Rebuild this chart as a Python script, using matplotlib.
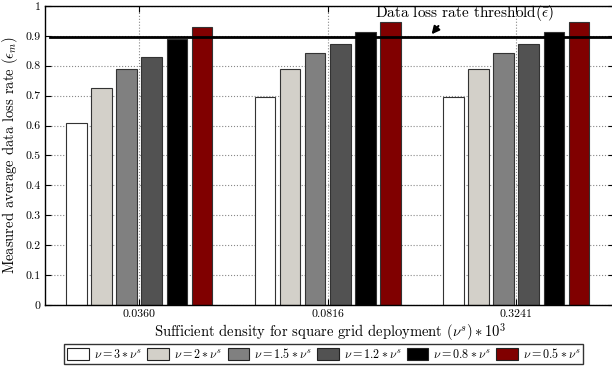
import numpy as np
import matplotlib
matplotlib.use("Agg")
import matplotlib.pyplot as plt
from matplotlib.patches import Patch

plt.rcParams['font.family'] = ['cmr10', 'DejaVu Serif']
plt.rcParams['mathtext.fontset'] = 'cm'
plt.rcParams['axes.formatter.use_mathtext'] = True

# data
densities = ['0.0360', '0.0816', '0.3241']
series_labels = [r'$\nu=3*\nu^s$', r'$\nu=2*\nu^s$', r'$\nu=1.5*\nu^s$',
                 r'$\nu=1.2*\nu^s$', r'$\nu=0.8*\nu^s$', r'$\nu=0.5*\nu^s$']
nu_3 = [0.608, 0.695, 0.695]
nu_2 = [0.727, 0.790, 0.790]
nu_15 = [0.790, 0.842, 0.842]
nu_12 = [0.830, 0.873, 0.873]
nu_08 = [0.889, 0.913, 0.913]
nu_05 = [0.929, 0.946, 0.946]
threshold = 0.895

series = [nu_3, nu_2, nu_15, nu_12, nu_08, nu_05]
colors = ['#ffffff', '#d3d0c9', '#808080', '#525252', '#000000', '#800000']

fig = plt.figure(figsize=(6.12, 3.70), dpi=100)
ax = fig.add_axes([0.0735, 0.176, 0.93, 0.808])

x = np.arange(1, len(densities) + 1)
step = 0.8 / len(series)
width = step * 0.82
for i, (vals, col) in enumerate(zip(series, colors)):
    offs = (i - (len(series) - 1) / 2) * step
    ax.bar(x + offs, vals, width=width, color=col, edgecolor='#333333',
           linewidth=0.8, zorder=2)

# threshold line and its label
ax.plot([0.525, 3.6], [threshold, threshold], color='black', lw=2, zorder=3)
ax.text(2.726, 0.977, r'Data loss rate threshold($\bar{\epsilon}$)',
        ha='center', va='center', fontsize=11)
ax.annotate('', xy=(2.542, threshold + 0.003), xytext=(2.597, 0.940),
            arrowprops=dict(arrowstyle='-|>', color='black', lw=1.5,
                            mutation_scale=11))

ax.set_xlim(0.5, 3.52)
ax.set_ylim(0, 1)
ax.set_xticks(x)
ax.set_xticklabels(densities)
ax.set_yticks(np.arange(0, 1.01, 0.1))
ax.set_yticklabels(['0'] + ['%.1f' % v for v in np.arange(0.1, 0.95, 0.1)] + ['1'])
ax.tick_params(direction='in', length=4, top=True, right=True, labelsize=8.5,
               width=0.8, pad=3)
ax.grid(True, linestyle=':', color='#888888', linewidth=0.8, zorder=0)
ax.set_axisbelow(True)
for s in ax.spines.values():
    s.set_linewidth(1.0)

ax.set_xlabel(r'Sufficient density for square grid deployment $(\nu^s)*10^3$',
              fontsize=10.5, labelpad=2)
ax.set_ylabel(r'Measured average data loss rate ($\epsilon_m$)', fontsize=10.5,
              labelpad=4)

handles = [Patch(facecolor=c, edgecolor='#222222', linewidth=0.8) for c in colors]
leg = fig.legend(handles, series_labels, loc='center', ncol=6,
                 bbox_to_anchor=(0.529, 0.043), fontsize=8.7, frameon=True,
                 fancybox=False, edgecolor='black', handlelength=1.8,
                 handleheight=1.05, columnspacing=0.45, handletextpad=0.4,
                 borderpad=0.25, borderaxespad=0)
leg.get_frame().set_linewidth(1.0)

fig.savefig('out.png', dpi=100)
